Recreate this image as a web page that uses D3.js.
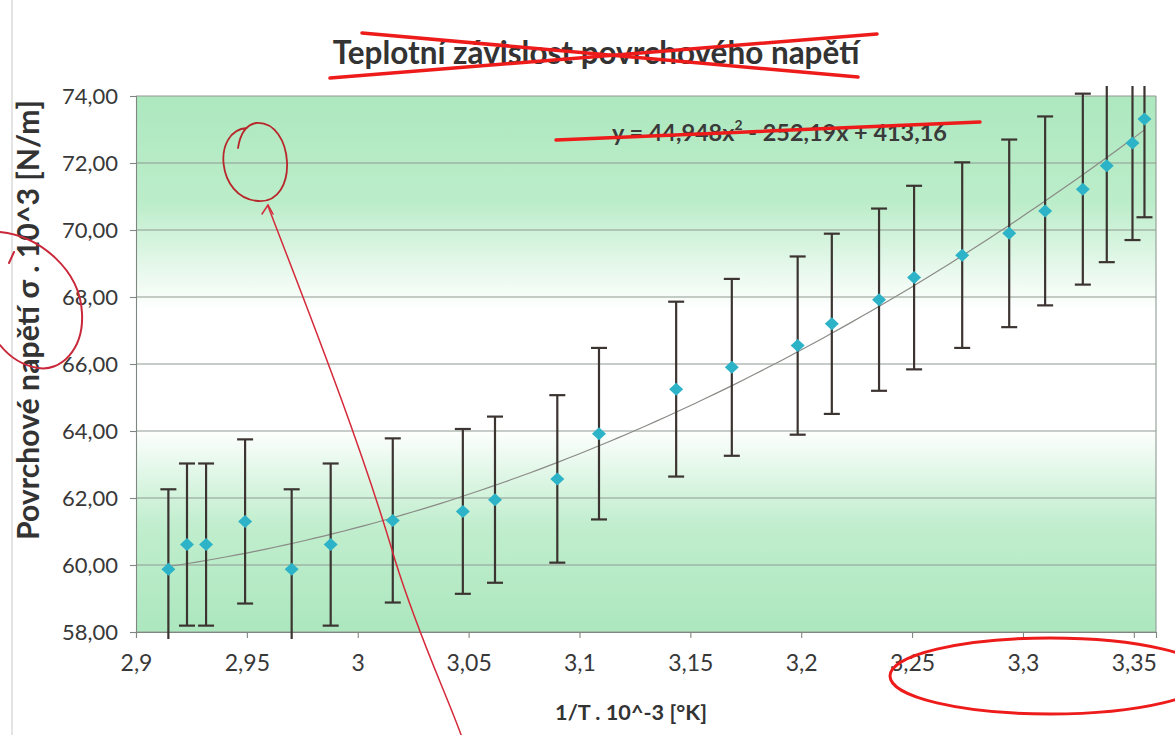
<!DOCTYPE html>
<html><head><meta charset="utf-8">
<script src="https://cdn.jsdelivr.net/npm/d3@7"></script>
<style>
body{margin:0;background:#fff}
svg{display:block}
text{font-family:Lato,"Open Sans","DejaVu Sans",sans-serif}
</style></head>
<body><svg id="c" width="1175" height="735"></svg>
<script>
// ---- data ----
const invT = [2.9146,2.9230,2.9316,2.9492,2.9702,2.9878,3.0158,3.0474,3.0619,3.0900,3.1088,3.1436,
              3.1687,3.1984,3.2138,3.2351,3.2509,3.2726,3.2938,3.3100,3.3270,3.3378,3.3494,3.3548];
const sigma = [59.87,60.61,60.61,61.30,59.87,60.61,61.33,61.60,61.95,62.57,63.92,65.25,
               65.90,66.55,67.20,67.92,68.58,69.25,69.90,70.57,71.22,71.92,72.60,73.31];
const sigmaErr = [2.39,2.42,2.42,2.45,2.39,2.42,2.45,2.46,2.48,2.50,2.56,2.61,
                  2.64,2.66,2.69,2.72,2.74,2.77,2.80,2.82,2.85,2.88,2.90,2.93];
const trendCoef = [44.948, -252.19, 413.16];
const xTickValues = [2.9,2.95,3.0,3.05,3.1,3.15,3.2,3.25,3.3,3.35];
const xTickLabels = ["2,9","2,95","3","3,05","3,1","3,15","3,2","3,25","3,3","3,35"];
const yTickValues = [58,60,62,64,66,68,70,72,74];
const yTickLabels = ["58,00","60,00","62,00","64,00","66,00","68,00","70,00","72,00","74,00"];
const titleText = "Teplotní závislost povrchového napětí";
const xTitleText = "1/T . 10^-3 [°K]";
const yTitleText = "Povrchové napětí σ . 10^3 [N/m]";
const equationParts = ["y = 44,948x", "2", " - 252,19x + 413,16"];

// ---- layout ----
const svg = d3.select("#c");
const L = 136, R = 1156, T = 96, B = 632;
const x = d3.scaleLinear().domain([2.9, 3.36]).range([L, R]);
const y = d3.scaleLinear().domain([58, 74]).range([B, T]);

function fit(sel, w){
  let fs = parseFloat(sel.attr("font-size"));
  const cur = sel.node().getComputedTextLength();
  sel.attr("font-size", (fs*w/cur).toFixed(2));
}

// page edge line
svg.append("line").attr("x1",12).attr("x2",12).attr("y1",0).attr("y2",735)
  .attr("stroke","#c8c8c8").attr("stroke-width",1);

// gradient background
const defs = svg.append("defs");
const g = defs.append("linearGradient").attr("id","bg").attr("x1",0).attr("x2",0).attr("y1",0).attr("y2",1);
[[0,"#ade8bf"],[0.2,"#bcedca"],[0.32,"#e6f8eb"],[0.4,"#ffffff"],[0.62,"#ffffff"],[0.7,"#e2f7e8"],[0.8,"#c1eece"],[1,"#ace7be"]]
  .forEach(([o,c])=>g.append("stop").attr("offset",o).attr("stop-color",c));
defs.append("clipPath").attr("id","clip").append("rect")
  .attr("x",L-10).attr("y",T-10).attr("width",R-L+20).attr("height",B-T+17);

svg.append("rect").attr("x",L).attr("y",T).attr("width",R-L).attr("height",B-T).attr("fill","url(#bg)");

// gridlines
svg.append("g").selectAll("line").data(yTickValues).join("line")
  .attr("x1",L).attr("x2",R).attr("y1",d=>y(d)).attr("y2",d=>y(d))
  .attr("stroke","#8f9a92").attr("stroke-width",1.1);
// right border
svg.append("line").attr("x1",R).attr("x2",R).attr("y1",T).attr("y2",B).attr("stroke","#8f9a92").attr("stroke-width",1.1);

// axes
const yAxis = svg.append("g").attr("transform",`translate(${L},0)`)
  .call(d3.axisLeft(y).tickValues(yTickValues).tickFormat((d,i)=>yTickLabels[i]).tickSize(6).tickPadding(12));
const xAxis = svg.append("g").attr("transform",`translate(0,${B})`)
  .call(d3.axisBottom(x).tickValues(xTickValues).tickFormat((d,i)=>xTickLabels[i]).tickSize(6).tickPadding(17));
[yAxis,xAxis].forEach(a=>{
  a.select(".domain").attr("stroke","#7f8781").attr("stroke-width",1.1);
  a.selectAll(".tick line").attr("stroke","#7f8781").attr("stroke-width",1.1);
  a.selectAll(".tick text").attr("font-size",22).attr("fill","#383838")
   .style("font-family","Lato,'Open Sans',sans-serif");
});
xAxis.selectAll(".tick text").attr("font-size",23);

// trendline
const tx = d3.range(0, 101).map(i => invT[0] + (invT[invT.length-1]-invT[0])*i/100);
const trend = tx.map(v => [v, trendCoef[0]*v*v + trendCoef[1]*v + trendCoef[2]]);
svg.append("path").datum(trend)
  .attr("d", d3.line().x(d=>x(d[0])).y(d=>y(d[1])))
  .attr("fill","none").attr("stroke","#8a8a86").attr("stroke-width",1.2);

// error bars
const eb = svg.append("g").attr("clip-path","url(#clip)").attr("stroke","#3b3431").attr("stroke-width",2.2);
const pts = invT.map((v,i)=>({x:v,y:sigma[i],e:sigmaErr[i]}));
eb.selectAll("line.v").data(pts).join("line").attr("class","v")
  .attr("x1",d=>x(d.x)).attr("x2",d=>x(d.x)).attr("y1",d=>y(d.y-d.e)).attr("y2",d=>y(d.y+d.e));
eb.selectAll("line.t").data(pts).join("line").attr("class","t")
  .attr("x1",d=>x(d.x)-8).attr("x2",d=>x(d.x)+8).attr("y1",d=>y(d.y+d.e)).attr("y2",d=>y(d.y+d.e));
eb.selectAll("line.b").data(pts).join("line").attr("class","b")
  .attr("x1",d=>x(d.x)-8).attr("x2",d=>x(d.x)+8).attr("y1",d=>y(d.y-d.e)).attr("y2",d=>y(d.y-d.e));

// markers
svg.append("g").selectAll("path").data(pts).join("path")
  .attr("transform",d=>`translate(${x(d.x)},${y(d.y)})`)
  .attr("d","M0,-6.5L7,0L0,6.5L-7,0Z").attr("fill","#2db3c7");

// titles
const title = svg.append("text").attr("x",596).attr("y",64).attr("text-anchor","middle")
  .attr("font-size",26).attr("font-weight","bold").attr("fill","#333").text(titleText);
fit(title, 527);
const xt = svg.append("text").attr("x",631).attr("y",720).attr("text-anchor","middle")
  .attr("font-size",20).attr("font-weight","bold").attr("fill","#333").text(xTitleText);
fit(xt, 152);
const yt = svg.append("text").attr("transform","translate(39,320) rotate(-90)").attr("text-anchor","middle")
  .attr("font-size",20).attr("font-weight","bold").attr("fill","#333").text(yTitleText);
fit(yt, 440);

// equation
const eq = svg.append("text").attr("x",612).attr("y",141).attr("font-size",21).attr("font-weight","bold").attr("fill","#3a3a3a");
eq.append("tspan").text(equationParts[0]);
eq.append("tspan").attr("dy",-11).attr("font-size",14).text(equationParts[1]);
eq.append("tspan").attr("dy",11).text(equationParts[2]);
fit(eq, 336);

// red pen annotations
const red = svg.append("g").attr("fill","none").attr("stroke-linecap","round");
red.append("path").attr("d","M362,33 L858,77").attr("stroke","#ee1b1b").attr("stroke-width",3.5);
red.append("path").attr("d","M330,78 L877,34").attr("stroke","#ee1b1b").attr("stroke-width",3.5);
red.append("path").attr("d","M556,140 L980,122").attr("stroke","#ee1b1b").attr("stroke-width",3.5);
red.append("path").attr("d","M247,128 C212,130 216,198 258,201 C300,204 294,120 256,123 C246,125 240,135 238,148")
  .attr("stroke","#b8272b").attr("stroke-width",1.8);
red.append("path").attr("d","M268,206 C300,290 360,440 395,560 C420,640 445,690 463,740")
  .attr("stroke","#d42a3a").attr("stroke-width",1.5);
red.append("path").attr("d","M262,214 L268,205 L273,214").attr("stroke","#d42a3a").attr("stroke-width",1.5);
red.append("path").attr("d","M0,232 C40,236 80,270 82,313 C84,350 60,372 38,368 C20,365 8,355 0,345")
  .attr("stroke","#c9283a").attr("stroke-width",2);
red.append("path").attr("d","M14,252 L9,263").attr("stroke","#c9283a").attr("stroke-width",2);
red.append("ellipse").attr("cx",1050).attr("cy",676).attr("rx",160).attr("ry",38)
  .attr("stroke","#ee1b1b").attr("stroke-width",3);
</script></body></html>
